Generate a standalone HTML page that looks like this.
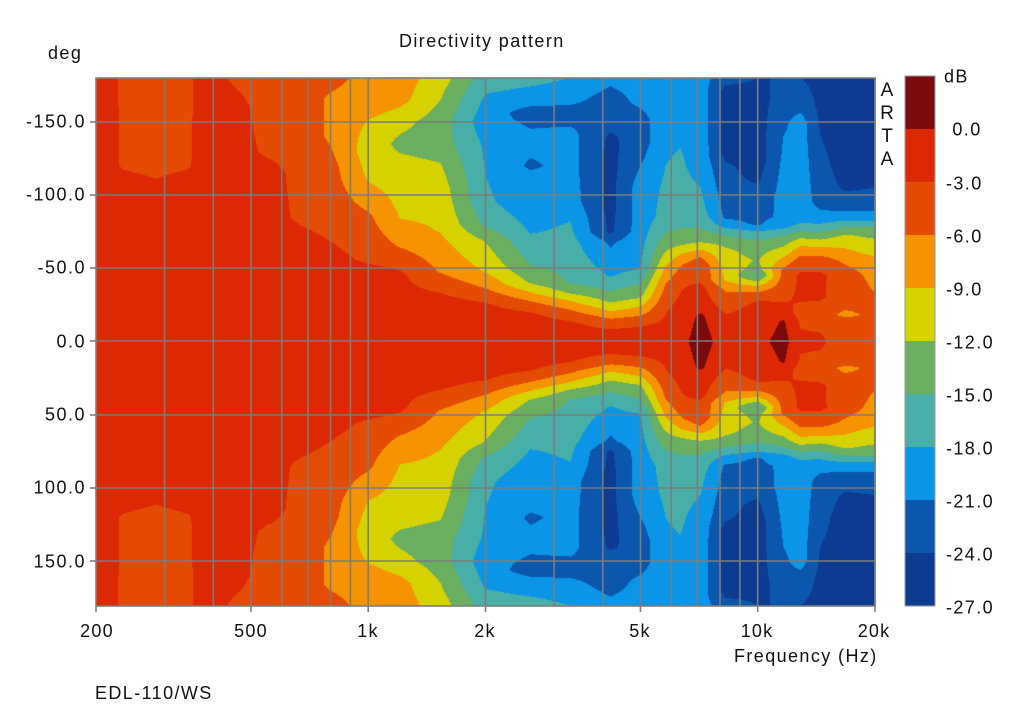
<!DOCTYPE html>
<html><head><meta charset="utf-8"><style>
body{margin:0;background:#fff;width:1024px;height:715px;overflow:hidden;position:relative;font-family:"Liberation Sans",Arial,sans-serif;color:#111}
.t{position:absolute;font-size:18px;letter-spacing:1.4px;white-space:nowrap}
.yl{position:absolute;font-size:18px;letter-spacing:1.5px;right:938px;text-align:right;transform:translateY(-50%)}
.xl{position:absolute;font-size:18px;letter-spacing:1.2px;transform:translateX(-50%);top:621px}
.cl{position:absolute;font-size:18px;letter-spacing:1.4px;left:946px;transform:translateY(-50%)}
canvas{position:absolute;left:96px;top:78px}
svg{position:absolute;left:0;top:0}
</style></head><body>
<canvas id="c" width="779" height="528"></canvas>
<svg width="1024" height="715" id="s"></svg>
<div class="t" style="left:399px;top:31px">Directivity pattern</div>
<div class="t" style="left:48px;top:43px">deg</div>
<div class="yl" style="top:122px">-150.0</div>
<div class="yl" style="top:195px">-100.0</div>
<div class="yl" style="top:268px">-50.0</div>
<div class="yl" style="top:342px">0.0</div>
<div class="yl" style="top:415px">50.0</div>
<div class="yl" style="top:488px">100.0</div>
<div class="yl" style="top:562px">150.0</div>
<div class="xl" style="left:97px">200</div>
<div class="xl" style="left:251px">500</div>
<div class="xl" style="left:368px">1k</div>
<div class="xl" style="left:485px">2k</div>
<div class="xl" style="left:640px">5k</div>
<div class="xl" style="left:757px">10k</div>
<div class="xl" style="left:874px">20k</div>
<div class="t" style="left:734px;top:646px">Frequency (Hz)</div>
<div class="t" style="left:95px;top:683px">EDL-110/WS</div>
<div class="t" style="left:879px;top:79px;font-size:19px;letter-spacing:0;line-height:23px;width:16px;text-align:center">A<br>R<br>T<br>A</div>
<div class="cl" style="top:77px;left:944px">dB</div>
<div class="cl" style="top:130px">&nbsp;0.0</div>
<div class="cl" style="top:184px">-3.0</div>
<div class="cl" style="top:237px">-6.0</div>
<div class="cl" style="top:290px">-9.0</div>
<div class="cl" style="top:343px">-12.0</div>
<div class="cl" style="top:396px">-15.0</div>
<div class="cl" style="top:449px">-18.0</div>
<div class="cl" style="top:502px">-21.0</div>
<div class="cl" style="top:555px">-24.0</div>
<div class="cl" style="top:608px">-27.0</div>
<script>
var COL=["#7b0a0c","#dc2903","#e44b05","#f59300","#d6d200","#6aae5f","#47afa7","#0b95e6","#0b57ae","#0d3b92"];
function band(v){if(v>0)return 0;var k=Math.floor(-v/3)+1;return k>9?9:k;}
var cols=[
[96,[[0,-1.5],[180,-1.5]]],
[112,[[0,-1.5],[180,-2]]],
[122,[[0,-1.5],[112,-2],[120,-3.5],[180,-3.8]]],
[155,[[0,-1.5],[105,-2],[116,-3.8],[180,-4.5]]],
[187,[[0,-1.5],[112,-2],[120,-3.5],[180,-3.8]]],
[200,[[0,-1.5],[180,-2]]],
[240,[[0,-1.5],[160,-2.5],[180,-3.5]]],
[270,[[0,-1.5],[115,-2.2],[130,-3.5],[180,-4.5]]],
[300,[[0,-1.5],[70,-2.2],[85,-3.5],[180,-4.5]]],
[330,[[0,-1.5],[55,-2],[75,-3.5],[120,-5],[140,-6.5],[165,-6.5],[180,-5]]],
[368,[[0,-1.5],[50,-2.5],[56,-3.5],[85,-5.5],[95,-7],[110,-9.2],[130,-10.5],[150,-9.2],[160,-7.5],[180,-7]]],
[400,[[0,-1.5],[45,-2.5],[52,-3.5],[65,-6.2],[85,-9.2],[120,-11],[135,-12.8],[150,-11],[165,-8],[180,-7.5]]],
[440,[[0,-1.5],[30,-2.5],[36,-3.5],[48,-6.3],[76,-9.2],[105,-10.5],[120,-11.8],[135,-13.5],[150,-13.5],[165,-12],[180,-10.5]]],
[485,[[0,-1.5],[24,-2.5],[29,-3.5],[37,-6.2],[48,-9.2],[69,-12.2],[80,-15.5],[95,-17.5],[120,-18.2],[135,-18.5],[150,-19.8],[165,-18.5],[180,-16.5]]],
[530,[[0,-1.5],[18,-2.5],[22,-3.5],[28,-6.2],[34,-9.2],[40,-12.2],[53,-15.2],[75,-18.2],[90,-19.5],[110,-20],[120,-21.5],[135,-20],[150,-21.5],[156,-22.5],[165,-19.5],[180,-17]]],
[570,[[0,-1.5],[12,-2.5],[16,-3.5],[22,-6.2],[28,-9.2],[33,-12.2],[40,-15.2],[85,-18.2],[95,-19.5],[120,-20],[140,-20],[150,-21.5],[156,-22.5],[165,-20],[180,-18]]],
[610,[[0,-1.5],[7,-2.5],[10,-3.5],[16,-6.2],[21,-9.2],[27,-12.2],[35,-15.2],[45,-18.2],[60,-20.5],[68,-21.5],[75,-24.5],[90,-25],[120,-25],[140,-24.5],[150,-22.5],[165,-22.5],[180,-20]]],
[640,[[0,-1.5],[8,-2.5],[12,-3.5],[18,-6.2],[24,-9.2],[30,-12.2],[40,-15.2],[50,-18.2],[80,-19.5],[105,-19.5],[125,-21.5],[135,-22.5],[150,-22.5],[165,-20],[180,-19.5]]],
[665,[[0,-1.5],[12,-2.5],[25,-3.5],[40,-6.2],[52,-9.2],[62,-12.2],[75,-15.2],[85,-17],[120,-18],[180,-19.5]]],
[680,[[0,-1],[20,-2],[40,-3.5],[52,-6.2],[60,-9.2],[66,-12.2],[78,-15.2],[100,-17],[180,-19.5]]],
[700,[[0,1.5],[18,0.5],[22,-1],[36,-2],[42,-3.5],[52,-3.5],[58,-6.2],[63,-9.2],[68,-12.2],[78,-15.2],[90,-17],[120,-19],[180,-19.5]]],
[725,[[0,-1.5],[15,-2.5],[22,-3.5],[35,-6.2],[42,-9.2],[62,-11.5],[68,-13],[74,-16],[80,-19.5],[85,-21.5],[120,-23.5],[128,-25],[170,-25],[180,-23]]],
[757,[[0,-1],[14,-2],[25,-2.5],[30,-3.5],[34,-6.2],[38,-9.2],[42,-13],[45,-16],[50,-13],[55,-12.2],[65,-13.5],[70,-15.5],[76,-18.5],[80,-21.5],[100,-22.5],[110,-24.5],[125,-25.8],[165,-25],[180,-24]]],
[783,[[0,1.2],[14,0.3],[18,-1.5],[30,-3.5],[38,-4.5],[48,-5],[55,-8],[62,-11],[70,-14],[78,-18.5],[85,-20.5],[110,-20],[140,-21],[180,-24]]],
[800,[[0,-2.5],[12,-3.2],[20,-4],[30,-2.5],[45,-2.5],[55,-4.5],[62,-7.5],[68,-10.5],[73,-13.5],[78,-17],[85,-19.5],[150,-19.5],[160,-22],[180,-24]]],
[820,[[0,-2.5],[12,-3.5],[22,-4.5],[30,-2.5],[45,-2.5],[55,-4.5],[62,-7.5],[67,-10.5],[72,-13.5],[78,-17],[85,-20],[95,-22],[120,-23],[150,-24.5],[180,-25]]],
[845,[[0,-4.5],[15,-5],[18,-7],[25,-5],[45,-4.5],[58,-7.2],[65,-9.5],[72,-11.5],[78,-15],[84,-19],[90,-21.5],[105,-24.5],[120,-25.5],[150,-25.8],[165,-25],[180,-24]]],
[875,[[0,-4.5],[20,-5],[40,-6.5],[55,-8],[62,-10.5],[70,-12],[78,-15],[84,-19],[90,-21.5],[105,-24],[140,-25.5],[180,-24.5]]]
];
function ev(p,d){for(var i=1;i<p.length;i++){if(d<=p[i][0]){var a=p[i-1],b=p[i],t=(d-a[0])/(b[0]-a[0]);return a[1]+(b[1]-a[1])*t;}}return p[p.length-1][1];}
var cv=document.getElementById('c'),ctx=cv.getContext('2d'),W=779,H=528,img=ctx.createImageData(W,H);
var rgb=COL.map(function(h){return[parseInt(h.substr(1,2),16),parseInt(h.substr(3,2),16),parseInt(h.substr(5,2),16)]});
var colv=new Float32Array(cols.length);
for(var y=0;y<H;y++){var deg=Math.abs((y+78-341)/1.466);if(deg>180)deg=180;
 for(var k=0;k<cols.length;k++)colv[k]=ev(cols[k][1],deg);
 var j=0;
 for(var x=0;x<W;x++){var px=x+96;while(j<cols.length-2&&px>cols[j+1][0])j++;
  var x0=cols[j][0],x1=cols[j+1][0],t=Math.min(1,Math.max(0,(px-x0)/(x1-x0)));
  var v=colv[j]+(colv[j+1]-colv[j])*t;var c=rgb[band(v)];var o=(y*W+x)*4;
  img.data[o]=c[0];img.data[o+1]=c[1];img.data[o+2]=c[2];img.data[o+3]=255;}}
ctx.putImageData(img,0,0);
var s='',g='#7c7c7c';
function X(f){return 96+389.5*Math.log10(f/200);}
var fs=[300,400,500,600,700,800,900,1000,2000,3000,4000,5000,6000,7000,8000,9000,10000,20000];
fs.forEach(function(f){var x=X(f).toFixed(1);s+='<line x1="'+x+'" y1="78" x2="'+x+'" y2="606" stroke="'+g+'" stroke-width="1.6"/>';});
[122,195,268,341,415,488,561].forEach(function(y){s+='<line x1="96" y1="'+y+'" x2="875" y2="'+y+'" stroke="'+g+'" stroke-width="1.6"/><line x1="90" y1="'+y+'" x2="96" y2="'+y+'" stroke="'+g+'" stroke-width="1.6"/>';});
[200,500,1000,2000,5000,10000,20000].forEach(function(f){var x=X(f).toFixed(1);s+='<line x1="'+x+'" y1="606" x2="'+x+'" y2="612" stroke="'+g+'" stroke-width="1.6"/>';});
s+='<rect x="96" y="78" width="779" height="528" fill="none" stroke="'+g+'" stroke-width="1.6"/>';
for(var i=0;i<10;i++){s+='<rect x="905" y="'+(76+53*i)+'" width="30" height="53.5" fill="'+COL[i]+'"/>';}
s+='<rect x="905" y="76" width="30" height="530" fill="none" stroke="#999" stroke-width="1"/>';
document.getElementById('s').innerHTML=s;
</script>
</body></html>
